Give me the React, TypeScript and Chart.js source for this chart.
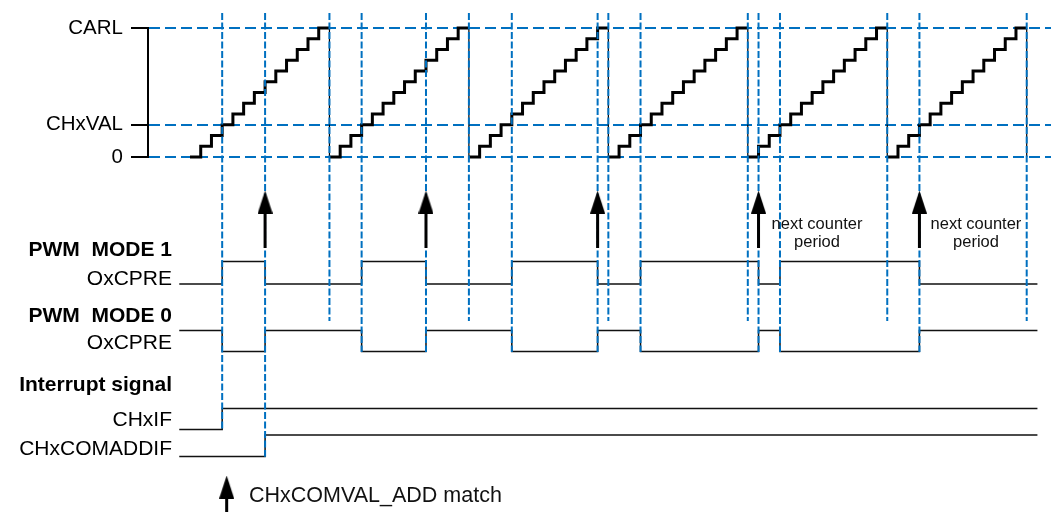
import React, { useEffect, useRef } from 'react';
import { Chart, registerables } from 'chart.js';

Chart.register(...registerables);

const FAMILY = '"Liberation Sans", Arial, Helvetica, sans-serif';

// ---- Counter (time unit = one counter tick) ----
const counterLevels = [0, 1, 2, 3, 4, 5, 6, 7, 8, 9, 10, 11, 12];
const periodStarts = [0, 13, 26, 39, 52, 65];
const periodLength = 13;
const counterTickValues = [0, 3, 12];
const counterTickNames = ['0', 'CHxVAL', 'CARL'];

// ---- Waveforms: transition times (ticks) and logic states ----
const signalEnd = 79;
const pwm1Times = [-1, 3, 7, 16, 22, 30, 38, 42, 53, 55, 68];
const pwm1States = [0, 1, 0, 1, 0, 1, 0, 1, 0, 1, 0];
const pwm0Times = [-1, 3, 7, 16, 22, 30, 38, 42, 53, 55, 68];
const pwm0States = [1, 0, 1, 0, 1, 0, 1, 0, 1, 0, 1];
const chxifTimes = [-1, 3];
const chxifStates = [0, 1];
const comaddTimes = [-1, 7];
const comaddStates = [0, 1];

// CHxCOMVAL_ADD match events (arrows)
const addMatchTimes = [7, 22, 38, 53, 68];

// Dashed event markers and the row each one reaches down to
const markerTimes = [3, 7, 13, 16, 22, 26, 30, 38, 39, 42, 52, 53, 55, 65, 68, 78];
const markerReach = ['if', 'add', 'period', 'pwm', 'pwm', 'period', 'pwm', 'pwm', 'period', 'pwm', 'period', 'pwm', 'pwm', 'period', 'pwm', 'period'];

// Row labels of the signal area
const signalLabels = ['PWM  MODE 1', 'OxCPRE', 'PWM  MODE 0', 'OxCPRE', 'Interrupt signal', 'CHxIF', 'CHxCOMADDIF'];
const signalLabelBold = [true, false, true, false, true, false, false];

// Free text notes
const noteTexts = ['next counter', 'period', 'next counter', 'period', 'CHxCOMVAL_ADD match'];

// ---- layout constants (signal axis units, downwards) ----
const AXIS_W = 148;
const LABEL_RIGHT = 172;
const SIG_FONT = 21;
const ROW = {
  pwm1: { hi: 10.45, lo: 12.7 },
  pwm0: { hi: 17.35, lo: 19.45 },
  chxif: { hi: 25.15, lo: 27.25 },
  comadd: { hi: 27.8, lo: 29.95 },
};
const labelPos = [9.28, 12.22, 15.88, 18.67, 22.85, 26.35, 29.18];
const markerTop = -14.4;
const reachBottom: Record<string, number> = { if: 27.3, add: 29.97, period: 16.4, pwm: 19.5 };
const arrowShaft = [9.1, 5.6];
const arrowHeadCenter = 4.5;
const notePos = [
  { t: 58.45, v: 6.72, size: 16.5, align: 'center' },
  { t: 58.45, v: 8.55, size: 16.5, align: 'center' },
  { t: 73.27, v: 6.72, size: 16.5, align: 'center' },
  { t: 73.27, v: 8.55, size: 16.5, align: 'center' },
  { t: 5.5, v: 33.88, size: 21.5, align: 'left' },
];
const legendArrowT = 3.42;

function wave(times: number[], states: number[], row: { hi: number; lo: number }) {
  const pts: any[] = times.map((t, i) => ({ x: t, y: states[i] ? row.hi : row.lo }));
  pts.push({ x: signalEnd, y: pts[pts.length - 1].y });
  return pts;
}

const fixBox = (s: any) => {
  s.width = AXIS_W;
  s.paddingTop = 0;
  s.paddingBottom = 0;
  s.paddingLeft = 0;
  s.paddingRight = 0;
};

export default function App() {
  const ref = useRef<HTMLCanvasElement>(null);

  useEffect(() => {
    const canvas = ref.current;
    if (!canvas) return;

    const head = document.createElement('canvas');
    head.width = 15;
    head.height = 23;
    const hc = head.getContext('2d')!;
    hc.fillStyle = '#000';
    hc.beginPath();
    hc.moveTo(0, 23);
    hc.lineTo(7.5, 0);
    hc.lineTo(15, 23);
    hc.closePath();
    hc.fill();

    // widest signal label -> padding so mirrored labels end at LABEL_RIGHT
    const mctx = document.createElement('canvas').getContext('2d')!;
    let widest = 0;
    signalLabels.forEach((l, i) => {
      mctx.font = `${signalLabelBold[i] ? 'bold' : 'normal'} ${SIG_FONT}px ${FAMILY}`;
      widest = Math.max(widest, mctx.measureText(l).width);
    });
    const sigPadding = LABEL_RIGHT - AXIS_W - widest;

    const stair: any[] = [];
    periodStarts.forEach((s) => {
      counterLevels.forEach((lv, k) => stair.push({ x: s + k, y: lv }));
      stair.push({ x: s + periodLength, y: counterLevels[counterLevels.length - 1] });
    });
    stair.push({ x: periodStarts[periodStarts.length - 1] + periodLength, y: counterLevels[0] });

    const markers: any[] = [];
    markerTimes.forEach((t, i) => {
      markers.push({ x: t, y: markerTop }, { x: t, y: reachBottom[markerReach[i]] }, { x: t, y: null });
    });

    const shafts: any[] = [];
    const heads: any[] = [];
    addMatchTimes.forEach((t) => {
      shafts.push({ x: t, y: arrowShaft[0] }, { x: t, y: arrowShaft[1] }, { x: t, y: null });
      heads.push({ x: t, y: arrowHeadCenter });
    });
    shafts.push({ x: legendArrowT, y: 36 }, { x: legendArrowT, y: 33.9 });
    heads.push({ x: legendArrowT, y: 33.0 });

    const notesPlugin = {
      id: 'notes',
      afterDatasetsDraw(chart: any) {
        const { ctx } = chart;
        const xs = chart.scales.x;
        const ys = chart.scales.ySig;
        ctx.save();
        ctx.fillStyle = '#111';
        ctx.textBaseline = 'middle';
        noteTexts.forEach((txt, i) => {
          const p = notePos[i];
          ctx.font = `${p.size}px ${FAMILY}`;
          ctx.textAlign = p.align;
          ctx.fillText(txt, xs.getPixelForValue(p.t), ys.getPixelForValue(p.v));
        });
        ctx.restore();
      },
    };

    const sigLine = (data: any[]) => ({
      data,
      yAxisID: 'ySig',
      stepped: 'before' as const,
      borderColor: '#111',
      borderWidth: 1.5,
      pointRadius: 0,
      fill: false,
      order: 3,
    });

    const chart = new Chart(canvas, {
      type: 'line',
      data: {
        datasets: [
          {
            data: heads,
            yAxisID: 'ySig',
            showLine: false,
            pointStyle: head as any,
            pointRadius: 8,
            clip: false,
            order: 0,
          } as any,
          {
            data: shafts,
            yAxisID: 'ySig',
            borderColor: '#000',
            borderWidth: 3,
            pointRadius: 0,
            spanGaps: false,
            clip: false,
            order: 0,
          },
          {
            data: markers,
            yAxisID: 'ySig',
            borderColor: '#0070C0',
            borderWidth: 2,
            borderDash: [7, 2.5],
            pointRadius: 0,
            spanGaps: false,
            clip: false,
            order: 1,
          },
          {
            data: stair,
            yAxisID: 'yC',
            stepped: 'before',
            borderColor: '#000',
            borderWidth: 3,
            borderJoinStyle: 'miter',
            pointRadius: 0,
            clip: false,
            order: 2,
            segment: {
              borderWidth: (c: any) => (c.p1.parsed.y < c.p0.parsed.y ? 1.2 : 3),
            },
          } as any,
          sigLine(wave(pwm1Times, pwm1States, ROW.pwm1)),
          sigLine(wave(pwm0Times, pwm0States, ROW.pwm0)),
          sigLine(wave(chxifTimes, chxifStates, ROW.chxif)),
          sigLine(wave(comaddTimes, comaddStates, ROW.comadd)),
        ],
      },
      options: {
        responsive: false,
        animation: false,
        events: [],
        layout: { padding: 0, autoPadding: false },
        plugins: {
          legend: { display: false },
          tooltip: { enabled: false },
          title: { display: false },
        },
        scales: {
          x: { type: 'linear', display: false, min: -3.915, max: 80.265 },
          ySpacer: {
            type: 'linear',
            position: 'left',
            stack: 'left',
            stackWeight: 28,
            weight: 3,
            min: 0,
            max: 1,
            grid: { display: false, drawTicks: false },
            border: { display: false },
            ticks: { display: false },
            afterFit: fixBox,
          },
          yC: {
            type: 'linear',
            position: 'left',
            stack: 'left',
            stackWeight: 129,
            weight: 2,
            min: 0,
            max: 12,
            afterBuildTicks: (s: any) => { s.ticks = counterTickValues.map((v) => ({ value: v })); },
            ticks: {
              autoSkip: false,
              padding: 8,
              color: '#000',
              font: { family: FAMILY, size: 20.5 },
              callback: (v: any) => counterTickNames[counterTickValues.indexOf(Number(v))],
            },
            grid: {
              color: '#0070C0',
              lineWidth: 2,
              tickColor: '#000',
              tickWidth: 2,
              tickLength: 17,
              tickBorderDash: [],
            },
            border: { display: true, color: '#000', width: 2, dash: [11, 5] },
            afterFit: fixBox,
          } as any,
          ySig: {
            type: 'linear',
            position: 'left',
            stack: 'left',
            stackWeight: 355,
            weight: 1,
            reverse: true,
            min: 0,
            max: 35.5,
            afterBuildTicks: (s: any) => { s.ticks = labelPos.map((v) => ({ value: v })); },
            ticks: {
              autoSkip: false,
              mirror: true,
              crossAlign: 'far',
              padding: sigPadding,
              color: '#000',
              font: (c: any) => ({ family: FAMILY, size: SIG_FONT, weight: signalLabelBold[c.index] ? 'bold' : 'normal' }),
              callback: (_v: any, i: number) => signalLabels[i],
            },
            grid: { display: false, drawTicks: false },
            border: { display: false },
            afterFit: fixBox,
          } as any,
        },
      },
      plugins: [notesPlugin],
    });

    return () => chart.destroy();
  }, []);

  return (
    <div style={{ position: 'absolute', left: 0, top: 0, width: 1051, height: 512, background: '#fff' }}>
      <canvas ref={ref} width={1051} height={512} style={{ display: 'block' }} />
    </div>
  );
}
